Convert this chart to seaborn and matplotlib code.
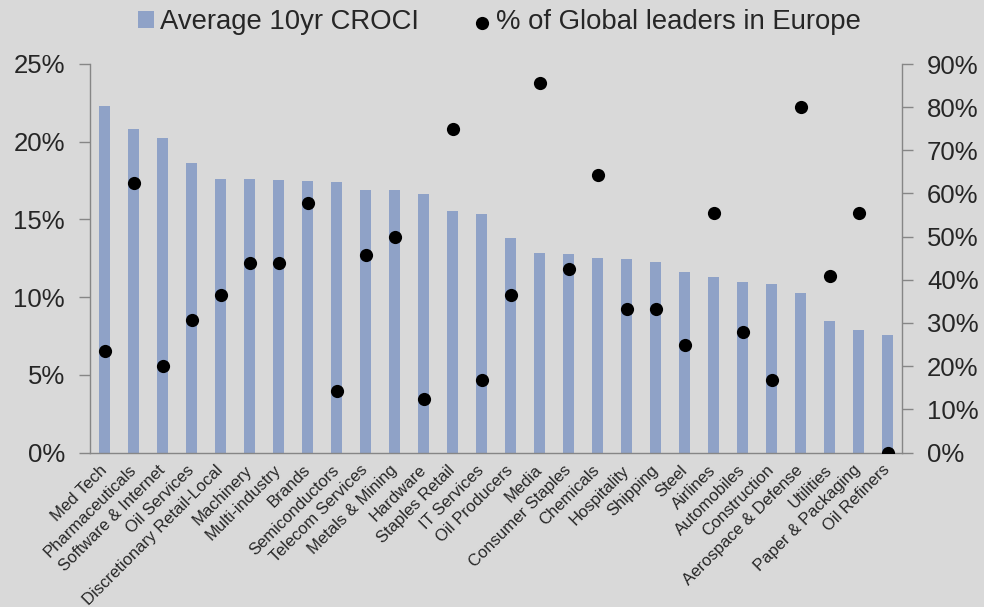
import numpy as np
import pandas as pd
import matplotlib
matplotlib.use('Agg')
import matplotlib.pyplot as plt
from matplotlib.ticker import PercentFormatter, MultipleLocator
import seaborn as sns

# 行业、平均10年CROCI、欧洲全球龙头占比
sectors = ['Med Tech', 'Pharmaceuticals', 'Software & Internet', 'Oil Services',
           'Discretionary Retail-Local', 'Machinery', 'Multi-industry', 'Brands',
           'Semiconductors', 'Telecom Services', 'Metals & Mining', 'Hardware',
           'Staples Retail', 'IT Services', 'Oil Producers', 'Media',
           'Consumer Staples', 'Chemicals', 'Hospitality', 'Shipping', 'Steel',
           'Airlines', 'Automobiles', 'Construction', 'Aerospace & Defense',
           'Utilities', 'Paper & Packaging', 'Oil Refiners']
croci = [22.3, 20.8, 20.25, 18.6, 17.6, 17.58, 17.54, 17.5, 17.43, 16.9, 16.88, 16.66,
         15.56, 15.33, 13.83, 12.82, 12.8, 12.54, 12.46, 12.24, 11.62, 11.32, 11.0,
         10.83, 10.27, 8.45, 7.87, 7.57]
leaders = [23.5, 62.5, 20.0, 30.8, 36.4, 43.8, 44.0, 57.8, 14.3, 45.8, 50.0, 12.5,
           75.0, 16.7, 36.4, 85.7, 42.5, 64.3, 33.3, 33.3, 25.0, 55.5, 28.0, 16.7,
           80.0, 40.9, 55.5, 0.0]

df = pd.DataFrame({'sector': sectors,
                   'croci': np.array(croci) / 100,
                   'leaders': np.array(leaders) / 100})

bg = '#d9d9d9'
grey = '#868686'
sns.set_style('white', {'axes.facecolor': bg, 'figure.facecolor': bg})
plt.rcParams['font.family'] = ['Liberation Sans', 'DejaVu Sans']

fig = plt.figure(figsize=(9.84, 6.07), dpi=100)
ax = fig.add_axes([90 / 984, 1 - 452.5 / 607, 812 / 984, 388.5 / 607])
ax2 = ax.twinx()

# 点图（右轴）
sns.stripplot(data=df, x='sector', y='leaders', order=sectors, jitter=False,
              color='black', size=9.5, linewidth=0, ax=ax2, zorder=5)
# 柱状图（左轴）
sns.barplot(data=df, x='sector', y='croci', order=sectors, color='#8fa2c7',
            saturation=1, width=0.38, edgecolor='none', linewidth=0, ax=ax)

ax.set_xlim(-0.5, len(sectors) - 0.5)
ax.set_ylim(0, 0.25)
ax2.set_ylim(0, 0.9)
ax.yaxis.set_major_locator(MultipleLocator(0.05))
ax2.yaxis.set_major_locator(MultipleLocator(0.1))
ax.yaxis.set_major_formatter(PercentFormatter(1.0, decimals=0))
ax2.yaxis.set_major_formatter(PercentFormatter(1.0, decimals=0))
ax.set_xlabel('')
ax.set_ylabel('')
ax2.set_xlabel('')
ax2.set_ylabel('')

ax.set_xticks(range(len(sectors)))
ax.set_xticklabels(sectors, rotation=45, ha='right', va='center',
                   rotation_mode='anchor', fontsize=12)
ax.set_xticks(np.arange(-0.5, len(sectors), 1), minor=True)
ax.tick_params(axis='x', which='major', length=0, pad=11)
ax.tick_params(axis='x', which='minor', length=5, width=1, color=grey, direction='out')
ax.tick_params(axis='y', which='major', length=8, width=1, color=grey,
               direction='out', labelsize=18.5, pad=10, left=True)
ax2.tick_params(axis='y', which='major', length=8, width=1, color=grey,
                direction='out', labelsize=18.5, pad=10, right=True)

for a in (ax, ax2):
    a.spines['top'].set_visible(False)
    for s in ('left', 'right', 'bottom'):
        a.spines[s].set_color(grey)
        a.spines[s].set_linewidth(1)
ax.spines['right'].set_visible(False)
ax2.spines['left'].set_visible(False)
ax2.spines['bottom'].set_visible(False)

handles = [ax.containers[0], ax2.collections[0]]
fig.legend(handles, ['Average 10yr CROCI', '% of Global leaders in Europe'],
           loc='center', bbox_to_anchor=(0.508, 0.963), ncol=2, frameon=False,
           fontsize=19.8, handlelength=0.55, handleheight=0.55, handletextpad=0.25,
           columnspacing=2.0)

fig.savefig('out.png', dpi=100, facecolor=bg)
